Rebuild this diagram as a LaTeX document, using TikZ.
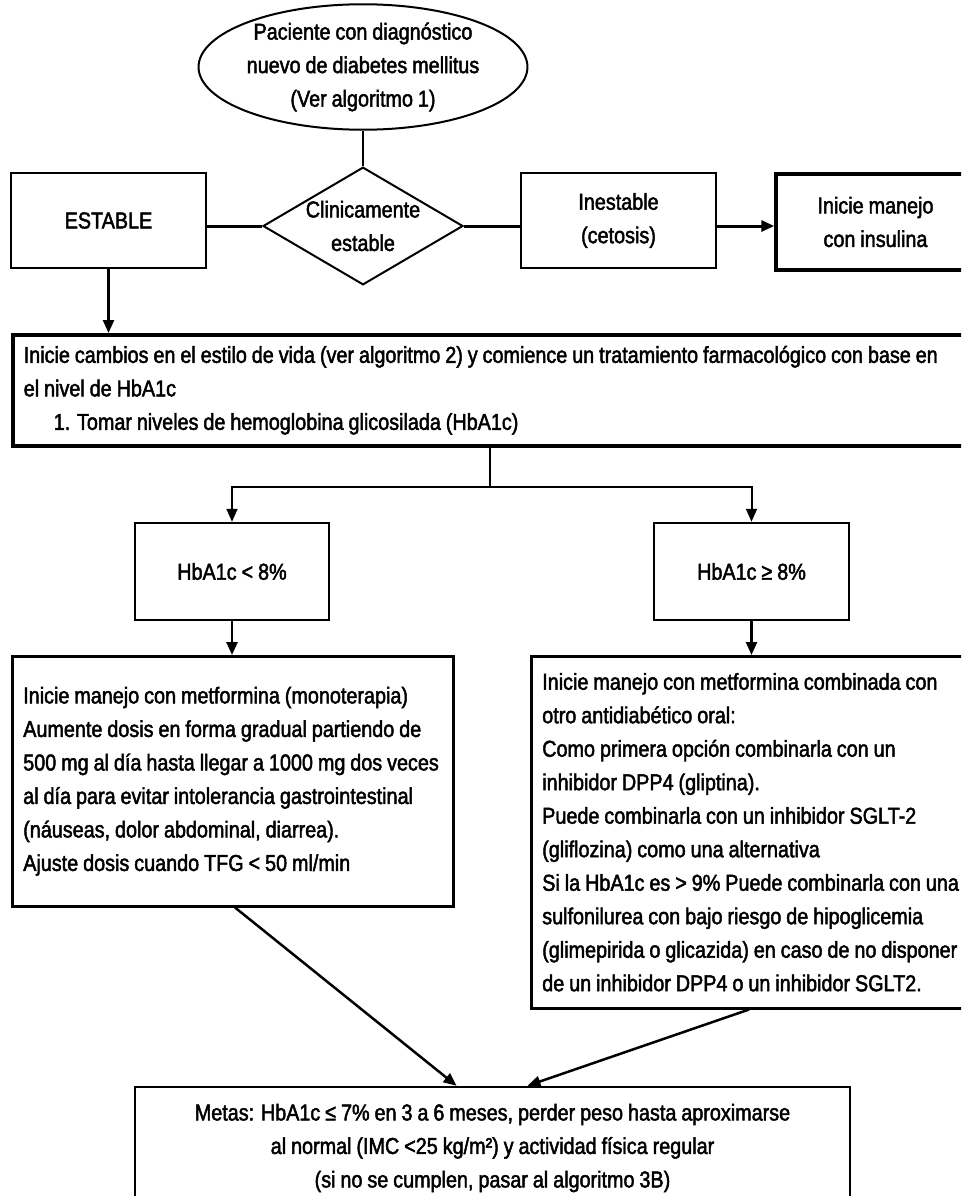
\documentclass[tikz,border=0pt]{standalone}
\usepackage{fontspec}
\setmainfont{Liberation Sans}[FakeStretch=0.86,WordSpace=0.9,FakeBold=2]
\usetikzlibrary{shapes.geometric,arrows.meta,calc}
\tikzset{
  txt/.style={font=\fontsize{23}{33.5}\selectfont},
  pbox/.style={txt,draw,line width=2.5pt,rectangle,inner sep=0pt,align=center},
  lbox/.style={txt,draw,line width=2.5pt,rectangle,inner xsep=11pt,inner ysep=0pt,align=flush left,anchor=north west,
    execute at begin node={\spaceskip=0pt\xspaceskip=0pt\relax}},
  arr/.style={line width=2.5pt,-{Triangle[length=13pt,width=11pt]}},
  thinln/.style={line width=1.4pt},
  thickln/.style={line width=3pt}
}
\begin{document}
\begin{tikzpicture}[x=1pt,y=-1pt]
\useasboundingbox (0,0) rectangle (961,1196);
\clip (0,0) rectangle (961,1196);
% nodes
\node[txt,draw,ellipse,line width=2pt,inner sep=0pt,minimum width=316pt,minimum height=120pt,align=center] (start) at (363,67)
  {Paciente con diagnóstico\\nuevo de diabetes mellitus\\(Ver algoritmo 1)};
\node[txt,draw,diamond,line width=2pt,inner sep=0pt,aspect=1.7,minimum width=198pt,minimum height=116pt,align=center] (dec) at (363,226)
  {Clinicamente\\estable};
\node[pbox,minimum width=195pt,minimum height=95pt] (estable) at (108.5,220.5) {ESTABLE};
\node[pbox,minimum width=195pt,minimum height=95pt] (inestable) at (618.5,220.5) {Inestable\\(cetosis)};
\node[pbox,line width=3.5pt,minimum width=199pt,minimum height=96pt] (insulina) at (875.5,222) {Inicie manejo\\con insulina};
\node[lbox,line width=3.5pt,text width=942pt,minimum height=111pt] (big) at (11,333)
  {Inicie cambios en el estilo de vida (ver algoritmo 2) y comience un tratamiento farmacológico con base en\\
   el nivel de HbA1c\\
   \hspace*{30pt}1. Tomar niveles de hemoglobina glicosilada (HbA1c)};
\node[pbox,minimum width=194pt,minimum height=97pt] (lt8) at (232,571.5) {HbA1c < 8\%};
\node[pbox,minimum width=195pt,minimum height=97pt] (ge8) at (751.5,571.5) {HbA1c ≥ 8\%};
\node[lbox,text width=419pt,minimum height=250pt] (left) at (11,655)
  {Inicie manejo con metformina (monoterapia)\\
   Aumente dosis en forma gradual partiendo de\\
   500 mg al día hasta llegar a 1000 mg dos veces\\
   al día para evitar intolerancia gastrointestinal\\
   (náuseas, dolor abdominal, diarrea).\\
   Ajuste dosis cuando TFG < 50 ml/min};
\node[lbox,text width=423pt,minimum height=352pt] (right) at (530,655)
  {Inicie manejo con metformina combinada con\\
   otro antidiabético oral:\\
   Como primera opción combinarla con un\\
   inhibidor DPP4 (gliptina).\\
   Puede combinarla con un inhibidor SGLT-2\\
   (gliflozina) como una alternativa\\
   Si la HbA1c es > 9\% Puede combinarla con una\\
   sulfonilurea con bajo riesgo de hipoglicemia\\
   (glimepirida o glicazida) en caso de no disponer\\
   de un inhibidor DPP4 o un inhibidor SGLT2.};
\node[pbox,minimum width=715pt,minimum height=122pt] (goal) at (492.5,1148)
  {Metas: HbA1c ≤ 7\% en 3 a 6 meses, perder peso hasta aproximarse\\
   al normal (IMC <25 kg/m²) y actividad física regular\\
   (si no se cumplen, pasar al algoritmo 3B)};
% connectors
\draw[thinln] (start.south) -- (dec.north);
\draw[thickln] (estable.east |- dec.west) -- (dec.west);
\draw[thickln] (dec.east) -- (inestable.west |- dec.east);
\draw[arr,line width=3pt] (inestable.east |- dec.east) -- (insulina.west |- dec.east);
\draw[arr] (estable.south) -- (estable.south |- big.north);
\coordinate (br) at ($(big.south west)+(479,39)$);
\draw[thinln] (br |- big.south) -- (br);
\draw[arr,line width=2pt] (br) -| (lt8.north);
\draw[arr,line width=2pt] (br) -| (ge8.north);
\draw[arr] (lt8.south) -- (lt8.south |- left.north);
\draw[arr] (ge8.south) -- (ge8.south |- right.north);
\draw[arr] ($(left.south west)+(224,0)$) -- ($(goal.north)+(-36,0)$);
\draw[arr] ($(right.south west)+(219,0)$) -- ($(goal.north)+(35,0)$);
\end{tikzpicture}
\end{document}
